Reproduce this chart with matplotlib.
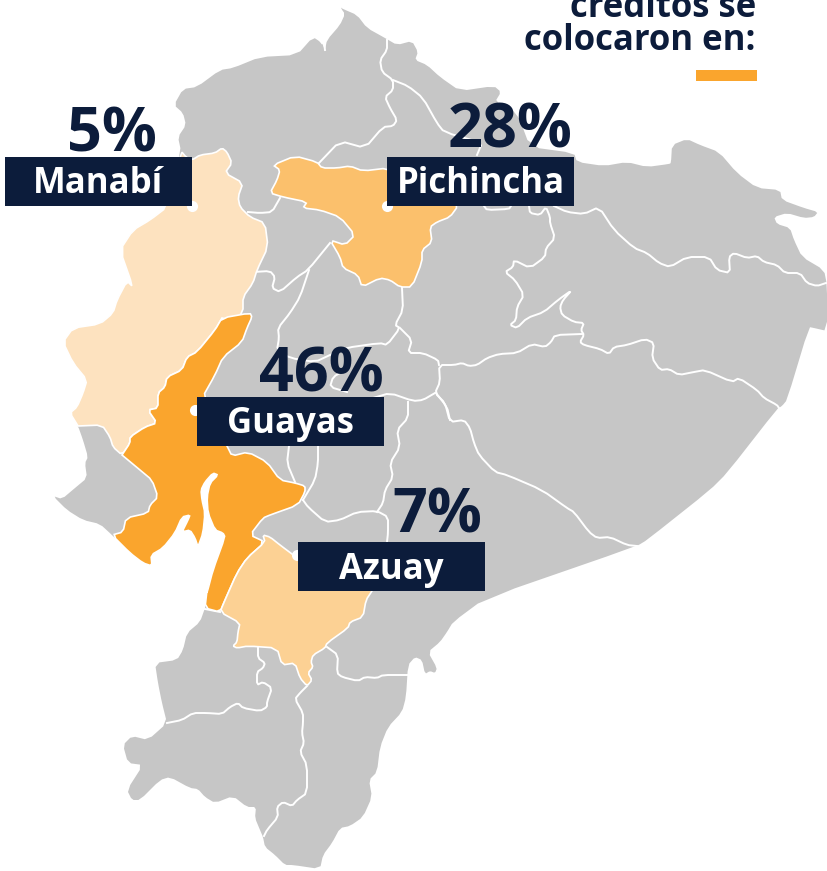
import matplotlib
matplotlib.use("Agg")
import matplotlib.pyplot as plt

# in picture pixels
coast_nw = [(174,105),(183,89),(197,87),(220,70),(233,68),(260,57),(297,55),(313,37),(322,43),(325,50),
            (327,40),(340,25),(345,14),(340,7),(343,9),(357,15),(367,28),(385,38),(397,45),(412,41),(418,52),
            (415,60),(427,65),(440,77),(460,91),(494,86),(501,92),(495,102),(517,112),(530,147),(574,153),
            (577,162),(604,166),(627,162),(647,167),(669,164),(671,163),(672,145),(687,139),(700,145),
            (719,152),(737,173),(757,188),(780,190),(782,200),(804,208),(818,212),(814,217),(804,218),
            (787,213),(774,217),(777,224),(790,228),(794,240),(802,257),(824,270),(827,285),(827,331),
            (814,328),(809,327),(787,400),(782,406),(777,409),(727,473),(710,490),(647,540),(637,546),
            (484,599),(453,622),(447,632),(440,642),(428,652),(437,668),(435,673),(430,671),(425,674),
            (422,660),(415,657),(408,665),(406,697),(402,712),(388,727),(380,747),(377,772),(369,780),
            (372,797),(363,817),(350,826),(340,828),(332,843),(323,855),(320,869),(293,865),(285,865),
            (275,855),(265,847),(263,837),(260,830),(255,818),(256,807),(247,807),(233,796),(215,803),
            (205,797),(198,789),(190,788),(170,777),(160,780),(140,800),(132,800),(127,790),(143,765),
            (128,763),(123,745),(132,736),(148,740),(167,723),(162,703),(158,683),(155,663),(177,660),
            (183,650),(187,633),(200,622),(205,608)]
coast_guayas = [(205,608),(207,590),(207,593),(213,570),(225,537),(223,533),(215,530),(208,513),(207,497),
                (210,483),(218,475),(213,473),(205,482),(201,490),(202,500),(205,513),(203,533),(198,547),
                (195,538),(190,530),(182,532),(188,520),(190,515),(182,517),(175,533),(163,548),(151,555),
                (152,566),(143,563),(130,553),(112,535)]
coast_santa_elena = [(100,524),(83,520),(67,510),(53,496),(62,499),(75,488),(87,478),(85,463),(88,457),
                     (83,440)]
coast_manabi = [(78,426),(70,413),(77,407),(83,393),(87,380),(73,363),(63,342),(73,328),(100,324),(113,313),
                (117,300),(127,281),(133,287),(120,250),(133,230),(150,220),(167,207),(181,151)]
coast_tail = [(178,137),(186,125),(183,113)]

manabi_east = [(186,157),(192,160),(200,155),(215,153),(222,148),(227,152),(232,163),(225,173),(243,183),
               (238,197),(240,207),(250,217),(265,223),(268,247),(257,270),(253,283),(243,297),(243,312),
               (233,321),(222,318)]
guayas_west = [(222,318),(215,330),(197,352),(187,357),(182,370),(167,377),(165,387),(158,393),(158,408),
               (148,410),(157,423),(145,427),(130,437),(130,443),(122,455)]
manabi_south = [(113,447),(110,437),(102,425),(78,426)]
guayas_east = [(250,313),(252,317),(247,328),(242,342),(223,357),(215,375),(202,398),(227,446),(232,456),
               (248,452),(267,462),(280,480),(295,483),(305,486),(305,492),(298,505),(270,515),(263,518),
               (250,535),(265,542),(247,558),(237,573),(225,600),(220,612)]
guayas_sw = [(123,532),(126,518),(148,513),(150,505),(158,497),(152,480),(140,470),(122,455)]
pichincha = [(273,165),(295,156),(317,162),(322,168),(337,168),(350,166),(363,171),(388,168),(450,190),
             (458,206),(450,217),(437,222),(430,227),(432,242),(422,250),(422,262),(412,287),(400,287),
             (390,280),(380,278),(362,287),(358,275),(343,268),(340,257),(330,240),(345,245),(355,235),
             (340,217),(320,210),(303,208),(307,202),(283,197),(270,193),(277,180),(280,170)]
azuay = [(265,542),(263,535),(270,537),(280,545),(300,560),(385,570),(372,591),(366,600),(363,617),(350,622),
         (348,628),(327,643),(325,648),(313,655),(311,662),(313,667),(308,673),(312,680),(307,686),(300,678),
         (295,663),(282,665),(277,648),(248,646),(237,648),(233,646),(237,642),(238,632),(240,623),(220,612),
         (225,600),(237,573),(247,558)]

borders = [
    [(340,7),(342,17),(333,27),(323,35),(325,50)],
    [(316,35),(322,43)],
    [(387,40),(387,50),(380,60),(382,72),(393,80),(393,90),(385,97),(390,108),(397,120),(393,126),(383,127),
     (365,148),(340,141),(319,163)],
    [(393,80),(408,86),(423,98),(437,123),(444,132),(482,143),(477,155)],
    [(484,206),(487,210),(509,209),(511,206)],
    [(529,206),(530,213),(540,215),(546,207),(550,217),(550,223),(555,238),(546,248),(545,257),(530,268),
     (514,260),(513,267),(505,272),(515,280),(524,295),(517,307),(516,320),(510,325),(517,328),(527,318),
     (544,312),(558,300),(572,290),(563,300),(560,307),(562,315),(574,322),(584,323),(581,330),(584,335),
     (580,342),(584,345),(600,349),(609,354),(614,347),(627,345),(645,339),(654,343),(652,358),(660,370),
     (669,369),(679,375),(694,372),(705,370),(732,382),(739,378),(757,390),(764,398),(777,405),(779,408)],
    [(554,206),(567,212),(584,214),(599,207),(614,230),(634,248),(647,253),(659,263),(670,267),(687,257),
     (709,257),(717,270),(730,273),(729,257),(734,253),(747,258),(757,256),(764,262),(777,265),(785,273),
     (800,273),(807,283),(817,286),(826,283)],
    [(582,334),(555,335),(551,342),(545,347),(532,344),(517,353),(499,354),(487,358),(477,365),(469,366),
     (462,363),(454,365),(439,365),(440,382),(435,393),(445,403),(450,422),(464,420),(470,428),(474,443),
     (479,455),(495,472),(507,475),(542,490),(567,508),(574,512),(589,532),(597,538),(610,537),(627,545),
     (637,546)],
    [(248,212),(260,213),(272,212),(280,198)],
    [(253,272),(270,271),(275,277),(272,288),(280,292),(297,277),(308,270),(330,243)],
    [(309,270),(300,297),(290,313),(278,328),(279,338),(277,350),(290,358),(315,362),(330,355),(345,348),
     (380,343),(387,345),(400,328),(395,325),(403,310),(402,288)],
    [(400,328),(412,340),(408,353),(423,353),(438,360),(439,365)],
    [(435,393),(423,400),(413,401),(390,393),(373,398)],
    [(347,392),(330,387),(333,377),(345,370)],
    [(408,402),(408,418),(397,430),(400,447),(390,463),(393,477),(385,490),(383,503),(377,512)],
    [(436,393),(447,407),(450,420)],
    [(303,500),(308,507),(325,522),(340,520),(357,512),(377,511),(388,517),(388,533),(387,542)],
    [(318,446),(318,463),(315,480),(303,500)],
    [(289,446),(287,463),(295,482)],
    [(258,647),(258,658),(265,663),(263,668),(257,672),(257,685),(263,682),(272,688),(267,702),(267,707),
     (260,711),(243,708),(238,703),(230,707),(222,714),(207,713),(193,713),(182,720),(167,723)],
    [(307,686),(300,693),(295,699),(303,713),(303,723),(302,733),(304,743),(300,752),(307,765),(307,793),
     (297,800),(292,806),(283,802),(277,807),(278,817),(267,830),(264,836)],
    [(327,647),(338,655),(337,673),(342,677),(358,681),(365,677),(377,678),(383,675),(408,675)],
    [(205,609),(220,612)],
]

provinces = ["Manabí", "Pichincha", "Guayas", "Azuay"]
shares = ["5%", "28%", "46%", "7%"]
colors = ["#fde2bf", "#fbc06c", "#faa52d", "#fcd194"]
share_pos = [(112, 151), (510, 147), (321, 391), (437, 532)]
boxes = [(5, 157), (387, 157), (197, 397), (298, 542)]
text_base = [193, 193, 433, 579]
dots = [(192, 206), (387, 206), (195, 410), (297, 555)]

navy = "#0c1c3b"
plt.rcParams["font.family"] = ["Open Sans", "DejaVu Sans"]


def smooth(pts, closed=True):
    # one pass of corner cutting, the traced points are too angular otherwise
    out = [] if closed else [pts[0]]
    n = len(pts) if closed else len(pts) - 1
    for i in range(n):
        (x0, y0), (x1, y1) = pts[i], pts[(i + 1) % len(pts)]
        out.append((0.8 * x0 + 0.2 * x1, 0.8 * y0 + 0.2 * y1))
        out.append((0.2 * x0 + 0.8 * x1, 0.2 * y0 + 0.8 * y1))
    if not closed:
        out.append(pts[-1])
    return out


fig = plt.figure(figsize=(8.27, 8.71), dpi=100)
ax = fig.add_axes([0, 0, 1, 1])
ax.set_xlim(0, 827)
ax.set_ylim(871, 0)
ax.axis("off")

country = coast_nw + coast_guayas + coast_santa_elena + coast_manabi + coast_tail
xs, ys = zip(*smooth(country))
ax.fill(xs, ys, color="#c6c6c6", lw=0, zorder=1)

for line in borders:
    xs, ys = zip(*smooth(line, closed=False))
    ax.plot(xs, ys, color="white", lw=1.4, zorder=2, solid_joinstyle="round")

manabi = coast_manabi + manabi_east + guayas_west + manabi_south
guayas = guayas_east + coast_guayas + guayas_sw + guayas_west[::-1]
for poly, col in zip([manabi, pichincha, guayas, azuay], colors):
    xs, ys = zip(*smooth(poly))
    ax.fill(xs, ys, facecolor=col, edgecolor="white", lw=1.2, zorder=3)

for i, name in enumerate(provinces):
    ax.plot(*dots[i], "o", color="white", ms=8, mew=0, zorder=4)
    bx, by = boxes[i]
    ax.add_patch(plt.Rectangle((bx, by), 187, 49, color=navy, lw=0, zorder=5))
    ax.text(bx + 93.5, text_base[i], name, color="white", fontsize=25, fontweight="bold",
            ha="center", va="baseline", zorder=6)
    ax.text(share_pos[i][0], share_pos[i][1], shares[i], color=navy, fontsize=44, fontweight="bold",
            ha="center", va="baseline", zorder=6)

ax.text(756, 17, "créditos se", color=navy, fontsize=25, fontweight="bold", ha="right", va="baseline")
ax.text(756, 50, "colocaron en:", color=navy, fontsize=25, fontweight="bold", ha="right", va="baseline")
ax.add_patch(plt.Rectangle((696, 70), 61, 11, color="#faa52d", lw=0))

fig.savefig("out.png", dpi=100)
